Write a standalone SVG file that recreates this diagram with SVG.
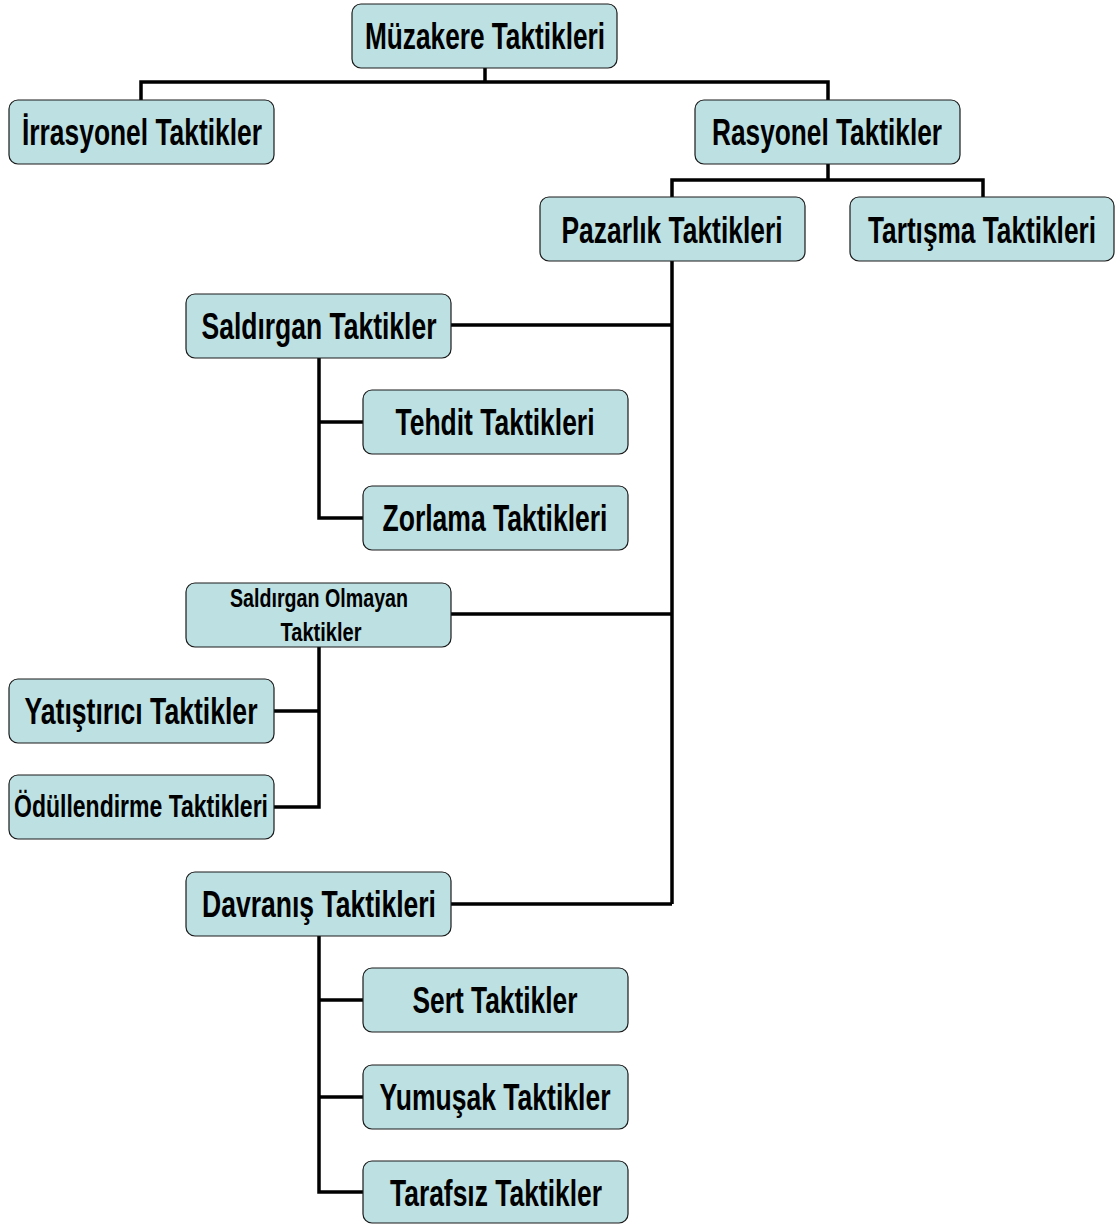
<svg xmlns="http://www.w3.org/2000/svg" width="1117" height="1224" viewBox="0 0 1117 1224">
<style>
.box{fill:#bde0e2;stroke:#1a1a1a;stroke-width:1.2}
.t{font-family:"Liberation Sans",Arial,sans-serif;font-weight:bold;font-size:37px;fill:#000;text-anchor:middle}
.s{font-size:25px}
.c{fill:none;stroke:#000;stroke-width:3.5}
</style>
<rect width="1117" height="1224" fill="#fff"/>
<g id="connectors">
<path class="c" d="M485,68V82M141,100V82H828V100"/>
<path class="c" d="M828,164V180M672,197V180H983V197"/>
<path class="c" d="M672,261V904M451,325H672M451,614H672M451,904H672"/>
<path class="c" d="M319,358V518H363M319,422H363"/>
<path class="c" d="M319,647V807H274M319,711H274"/>
<path class="c" d="M319,936V1192H363M319,1000H363M319,1097H363"/>
</g>
<g id="n_muzakere"><rect class="box" x="352" y="4" width="265" height="64" rx="9"/><text class="t" x="485" y="49" textLength="240" lengthAdjust="spacingAndGlyphs">Müzakere Taktikleri</text></g>
<g id="n_irrasyonel"><rect class="box" x="9" y="100" width="265" height="64" rx="9"/><text class="t" x="142" y="145" textLength="240" lengthAdjust="spacingAndGlyphs">İrrasyonel Taktikler</text></g>
<g id="n_rasyonel"><rect class="box" x="695" y="100" width="265" height="64" rx="9"/><text class="t" x="827" y="145" textLength="230" lengthAdjust="spacingAndGlyphs">Rasyonel Taktikler</text></g>
<g id="n_pazarlik"><rect class="box" x="540" y="197" width="265" height="64" rx="9"/><text class="t" x="672" y="243" textLength="221" lengthAdjust="spacingAndGlyphs">Pazarlık Taktikleri</text></g>
<g id="n_tartisma"><rect class="box" x="850" y="197" width="264" height="64" rx="9"/><text class="t" x="982" y="243" textLength="228" lengthAdjust="spacingAndGlyphs">Tartışma Taktikleri</text></g>
<g id="n_saldirgan"><rect class="box" x="186" y="294" width="265" height="64" rx="9"/><text class="t" x="319" y="339" textLength="235" lengthAdjust="spacingAndGlyphs">Saldırgan Taktikler</text></g>
<g id="n_tehdit"><rect class="box" x="363" y="390" width="265" height="64" rx="9"/><text class="t" x="495" y="435" textLength="199" lengthAdjust="spacingAndGlyphs">Tehdit Taktikleri</text></g>
<g id="n_zorlama"><rect class="box" x="363" y="486" width="265" height="64" rx="9"/><text class="t" x="495" y="531" textLength="225" lengthAdjust="spacingAndGlyphs">Zorlama Taktikleri</text></g>
<g id="n_olmayan"><rect class="box" x="186" y="583" width="265" height="64" rx="9"/><text class="t s" x="319" y="607" textLength="178" lengthAdjust="spacingAndGlyphs">Saldırgan Olmayan</text><text class="t s" x="321" y="641" textLength="81" lengthAdjust="spacingAndGlyphs">Taktikler</text></g>
<g id="n_yatistirici"><rect class="box" x="9" y="679" width="265" height="64" rx="9"/><text class="t" x="141" y="724" textLength="233" lengthAdjust="spacingAndGlyphs">Yatıştırıcı Taktikler</text></g>
<g id="n_odullendirme"><rect class="box" x="9" y="775" width="265" height="64" rx="9"/><text class="t" x="141" y="817" style="font-size:32px" textLength="254" lengthAdjust="spacingAndGlyphs">Ödüllendirme Taktikleri</text></g>
<g id="n_davranis"><rect class="box" x="186" y="872" width="265" height="64" rx="9"/><text class="t" x="319" y="917" textLength="234" lengthAdjust="spacingAndGlyphs">Davranış Taktikleri</text></g>
<g id="n_sert"><rect class="box" x="363" y="968" width="265" height="64" rx="9"/><text class="t" x="495" y="1013" textLength="165" lengthAdjust="spacingAndGlyphs">Sert Taktikler</text></g>
<g id="n_yumusak"><rect class="box" x="363" y="1065" width="265" height="64" rx="9"/><text class="t" x="495" y="1110" textLength="231" lengthAdjust="spacingAndGlyphs">Yumuşak Taktikler</text></g>
<g id="n_tarafsiz"><rect class="box" x="363" y="1161" width="265" height="62" rx="9"/><text class="t" x="496" y="1206" textLength="212" lengthAdjust="spacingAndGlyphs">Tarafsız Taktikler</text></g>
</svg>
